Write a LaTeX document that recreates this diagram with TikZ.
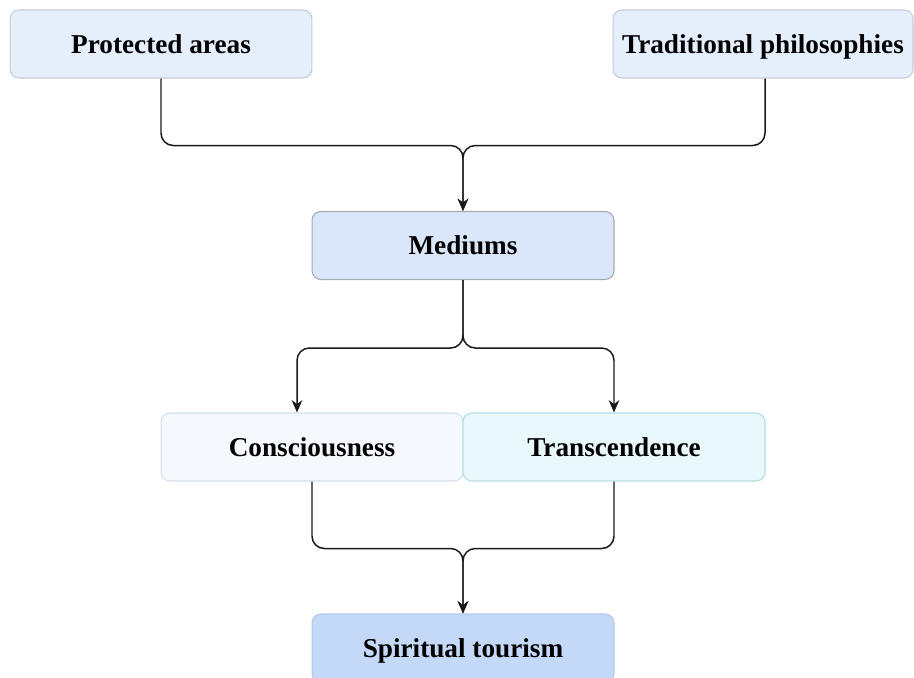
\documentclass[tikz,border=0pt]{standalone}
\usepackage{fontspec}
\setmainfont{Liberation Serif}
\usetikzlibrary{calc}
\usetikzlibrary{arrows.meta}

\definecolor{areaFill}{HTML}{E5EEFB}
\definecolor{areaLine}{HTML}{C6CCD6}
\definecolor{medFill}{HTML}{DAE7FA}
\definecolor{medLine}{HTML}{A3AAB5}
\definecolor{consFill}{HTML}{F5F9FE}
\definecolor{consLine}{HTML}{D3E0EC}
\definecolor{transFill}{HTML}{E9F8FA}
\definecolor{transLine}{HTML}{B4DEE6}
\definecolor{tourFill}{HTML}{C4D9F7}
\definecolor{tourLine}{HTML}{B3C9EC}

\begin{document}
\begin{tikzpicture}[x=0.02cm,y=-0.02cm,
    topic/.style={rounded corners=5pt,line width=0.6pt,minimum width=6.04cm,minimum height=1.36cm,
        text height=10.4pt,text depth=0pt,
        font=\fontsize{15.5}{18}\selectfont\bfseries},
    link/.style={draw=black!90,line width=0.85pt,rounded corners=7pt,-{Stealth[length=7pt,width=6pt]}}]
\useasboundingbox (0,0) rectangle (914,678);

% top row
\node[topic,fill=areaFill,draw=areaLine] (areas) at (161,44) {Protected areas};
\node[topic,fill=areaFill,draw=areaLine,minimum width=6cm] (philo) at (763,44) {Traditional philosophies};

% middle
\node[topic,fill=medFill,draw=medLine] (med) at (463,245.5) {Mediums};

\node[topic,fill=consFill,draw=consLine] (cons) at (312,447) {Consciousness};
\node[topic,fill=transFill,draw=transLine] (trans) at (614,447) {Transcendence};

% bottom
\node[topic,fill=tourFill,draw=tourLine] (tour) at (463,648) {Spiritual tourism};

% connectors
\draw[link] (areas.south) -- ++(0,67) -| (med.north);
\draw[link] ([xshift=0.04cm]philo.south) -- ++(0,67) -| (med.north);

\draw[link] (med.south) -- ++(0,68) -| ([xshift=-0.3cm]cons.north);
\draw[link] (med.south) -- ++(0,68) -| (trans.north);

\draw[link] (cons.south) -- ++(0,67) -| (tour.north);
\draw[link] (trans.south) -- ++(0,67) -| (tour.north);
\end{tikzpicture}
\end{document}
